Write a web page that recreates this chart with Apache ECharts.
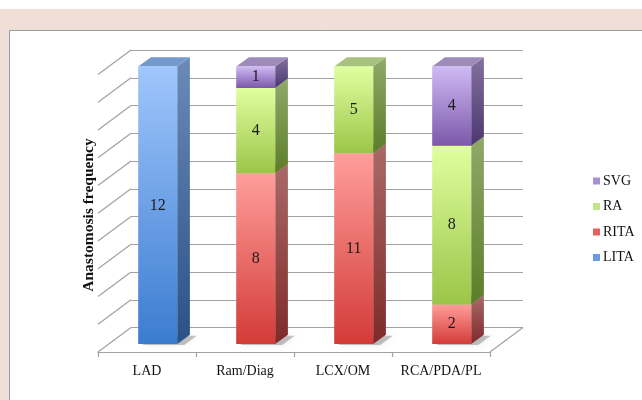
<!DOCTYPE html>
<html>
<head>
<meta charset="utf-8">
<style>
  html, body { margin: 0; padding: 0; background: #ffffff; }
  #chart { width: 642px; height: 400px; }
</style>
<script src="https://cdn.jsdelivr.net/npm/echarts@6/dist/echarts.min.js"></script>
</head>
<body>
<div id="chart"></div>
<script>
// Anastomosis counts per target territory, by conduit
const categories = ['LAD', 'Ram/Diag', 'LCX/OM', 'RCA/PDA/PL'];
const LITA = [12, 0, 0, 0];
const RITA = [0, 8, 11, 2];
const RA   = [0, 4, 5, 8];
const SVG  = [0, 1, 0, 4];
const wallTicks = [0, 10, 20, 30, 40, 50, 60, 70, 80, 90, 100];

const stackOrder = [
  { name: 'LITA', values: LITA },
  { name: 'RITA', values: RITA },
  { name: 'RA',   values: RA },
  { name: 'SVG',  values: SVG }
];

// Face shading for each conduit: front gradient, side gradient, top face, legend swatch
const palette = {
  LITA: { front: ['#a0c6fc', '#3b7cd0'], side: ['#6b8ab8', '#2a5186'], top: '#7399cf', key: '#6a9be3' },
  RITA: { front: ['#ff9e9b', '#d33b38'], side: ['#a96a68', '#7e2a28'], top: '#b26e6c', key: '#e8605e' },
  RA:   { front: ['#e0ff9f', '#9bc548'], side: ['#90a96b', '#5c7d28'], top: '#a8c27e', key: '#c3e58a' },
  SVG:  { front: ['#cfbaf4', '#7c58ab'], side: ['#82729e', '#4b376f'], top: '#9d8bb9', key: '#a590d8' }
};

// Oblique projection: full floor depth and where the bars sit within it
const DEPTH_X = -33, DEPTH_Y = 24.5;
const FRONT = 0.676, BACK = 0.291;

const totals = categories.map((_, i) => stackOrder.reduce((s, c) => s + c.values[i], 0));

function grad(c) {
  return { type: 'linear', x: 0, y: 0, x2: 0, y2: 1,
    colorStops: [{ offset: 0, color: c[0] }, { offset: 1, color: c[1] }] };
}

function barSeries(entry, idx) {
  const data = categories.map((_, i) => {
    let below = 0;
    for (let k = 0; k < idx; k++) below += stackOrder[k].values[i];
    const lo = below / totals[i] * 100;
    const hi = (below + entry.values[i]) / totals[i] * 100;
    return [i, lo, hi, entry.values[i]];
  });
  const col = palette[entry.name];
  return {
    type: 'custom',
    name: entry.name,
    xAxisIndex: 0, yAxisIndex: 0,
    z: 5 + idx,
    itemStyle: { color: col.key },
    data: data,
    renderItem: function (params, api) {
      const cat = api.value(0), lo = api.value(1), hi = api.value(2), n = api.value(3);
      if (!n) return null;
      const pLo = api.coord([cat, lo]);
      const pHi = api.coord([cat, hi]);
      const band = api.size([1, 0])[0];
      const w = band * 0.398;
      const fx = DEPTH_X * FRONT, fy = DEPTH_Y * FRONT;
      const ddx = -DEPTH_X * (FRONT - BACK), ddy = -DEPTH_Y * (FRONT - BACK);
      const x0 = pLo[0] + fx - w / 2, x1 = x0 + w;
      const yB = pLo[1] + fy, yT = pHi[1] + fy;
      const children = [];
      if (lo === 0) {
        children.push({
          type: 'polygon',
          shape: { points: [[x0 + 4, yB + 1], [x1 + 7, yB + 1], [x1 + ddx + 7, yB + ddy + 1], [x0 + ddx + 4, yB + ddy + 1]] },
          style: { fill: 'rgba(0,0,0,0.22)', shadowBlur: 6, shadowColor: 'rgba(0,0,0,0.35)' },
          z2: 0
        });
      }
      children.push({
        type: 'polygon',
        shape: { points: [[x1, yT], [x1 + ddx, yT + ddy], [x1 + ddx, yB + ddy], [x1, yB]] },
        style: { fill: grad(col.side) }, z2: 1
      });
      children.push({
        type: 'polygon',
        shape: { points: [[x0, yT], [x1, yT], [x1 + ddx, yT + ddy], [x0 + ddx, yT + ddy]] },
        style: { fill: col.top }, z2: 1
      });
      children.push({
        type: 'rect',
        shape: { x: x0, y: yT, width: w, height: yB - yT },
        style: { fill: grad(col.front) }, z2: 2
      });
      children.push({
        type: 'text',
        x: (x0 + x1) / 2, y: (yT + yB) / 2,
        style: { text: String(n), fill: '#1a1a1a', font: '16px "Liberation Serif", serif',
          align: 'center', verticalAlign: 'middle' },
        z2: 3
      });
      return { type: 'group', children: children };
    }
  };
}

// Side wall diagonals and the floor's right edge
const wallSeries = {
  type: 'custom',
  name: 'wall',
  xAxisIndex: 0, yAxisIndex: 0,
  z: 1,
  silent: true,
  data: wallTicks.map(v => [0, v]),
  renderItem: function (params, api) {
    const v = api.value(1);
    const p = api.coord([0, v]);
    const band = api.size([1, 0])[0];
    const left = p[0] - band / 2;
    const lineStyle = { stroke: '#a2a2a2', lineWidth: 1.2 };
    const children = [{
      type: 'line',
      shape: { x1: left, y1: p[1], x2: left + DEPTH_X, y2: p[1] + DEPTH_Y },
      style: lineStyle
    }];
    if (v === 0) {
      const right = left + band * categories.length;
      children.push({
        type: 'line',
        shape: { x1: right, y1: p[1], x2: right + DEPTH_X, y2: p[1] + DEPTH_Y },
        style: lineStyle
      });
    }
    return { type: 'group', children: children };
  }
};

const chart = echarts.init(document.getElementById('chart'), null, { renderer: 'canvas' });

chart.setOption({
  animation: false,
  backgroundColor: '#ffffff',
  textStyle: { fontFamily: '"Liberation Serif", serif' },
  graphic: [
    { type: 'rect', z: -10, shape: { x: 0, y: 9, width: 642, height: 391 }, style: { fill: '#efdfd6' } },
    { type: 'rect', z: -9, shape: { x: 9.5, y: 30.5, width: 700, height: 400 },
      style: { fill: '#ffffff', stroke: '#9c9c9c', lineWidth: 1 } },
    { type: 'text', z: 10, x: 89, y: 215, rotation: Math.PI / 2,
      style: { text: 'Anastomosis frequency', font: 'bold 15.5px "Liberation Serif", serif',
        fill: '#111', align: 'center', verticalAlign: 'middle' } }
  ],
  legend: {
    orient: 'vertical',
    left: 588, top: 169,
    data: ['SVG', 'RA', 'RITA', 'LITA'],
    icon: 'rect',
    itemWidth: 7, itemHeight: 7,
    itemGap: 11.5,
    textStyle: { fontFamily: '"Liberation Serif", serif', fontSize: 14, color: '#111', padding: [0, 0, 0, -2] }
  },
  grid: [
    // back wall plane
    { left: 131, right: 119, top: 50, bottom: 72.5 },
    // front edge of the floor
    { left: 98, right: 152, top: 74.5, bottom: 48 }
  ],
  xAxis: [
    { type: 'category', gridIndex: 0, data: categories, boundaryGap: true,
      axisLine: { show: false }, axisTick: { show: false }, axisLabel: { show: false }, splitLine: { show: false } },
    { type: 'category', gridIndex: 1, data: categories, boundaryGap: true,
      axisLine: { show: true, lineStyle: { color: '#a2a2a2', width: 1.2 } },
      axisTick: { show: true, interval: 0, length: 5, lineStyle: { color: '#a2a2a2', width: 1.2 } },
      axisLabel: { show: true, interval: 0, margin: 12, fontSize: 14, color: '#111', fontFamily: '"Liberation Serif", serif' },
      splitLine: { show: false } }
  ],
  yAxis: [
    { type: 'value', gridIndex: 0, min: 0, max: 100, interval: 10,
      axisLine: { show: false }, axisTick: { show: false }, axisLabel: { show: false },
      splitLine: { show: true, lineStyle: { color: '#a2a2a2', width: 1.2 } } },
    { type: 'value', gridIndex: 1, min: 0, max: 100, show: false, splitLine: { show: false } }
  ],
  series: [wallSeries].concat(stackOrder.map(barSeries))
});
</script>
</body>
</html>
